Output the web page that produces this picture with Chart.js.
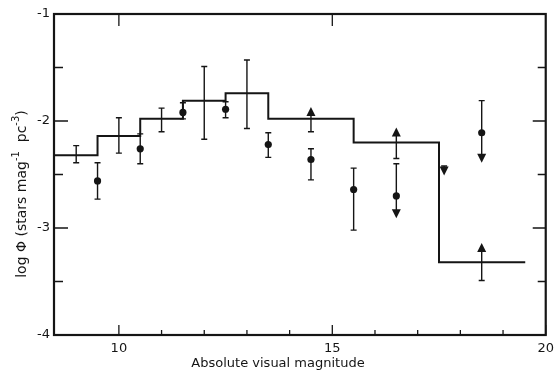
<!DOCTYPE html>
<html>
<head>
<meta charset="utf-8">
<script src="https://cdn.jsdelivr.net/npm/chart.js@4/dist/chart.umd.min.js"></script>
<style>
html,body{margin:0;padding:0;background:#fff;}
#wrap{width:560px;height:376px;}
</style>
</head>
<body>
<div id="wrap"><canvas id="c" width="560" height="376"></canvas></div>
<script>
// ---- data ----
const binEdges  = [8.48, 9.5, 10.5, 11.5, 12.5, 13.5, 15.5, 17.5, 19.52];
const binLevels = [-2.32, -2.14, -1.98, -1.81, -1.74, -1.98, -2.20, -3.32];

// error bars on the histogram (no marker)
const histErrX  = [9, 10, 11, 12, 13];
const histErrHi = [-2.23, -1.97, -1.88, -1.49, -1.43];
const histErrLo = [-2.39, -2.30, -2.10, -2.17, -2.07];

// arrows (limits) without marker: start value -> arrow tip value
const limX    = [14.5, 16.5, 18.5, 17.62];
const limFrom = [-2.10, -2.35, -3.49, -2.42];
const limTo   = [-1.87, -2.06, -3.14, -2.51];

// filled points with error bars
const ptX   = [9.5, 10.5, 11.5, 12.5, 13.5, 14.5, 15.5, 16.5, 18.5];
const ptY   = [-2.56, -2.26, -1.92, -1.89, -2.22, -2.36, -2.64, -2.70, -2.11];
const ptHi  = [-2.39, -2.12, -1.83, -1.82, -2.11, -2.26, -2.44, -2.40, -1.81];
const ptLo  = [-2.73, -2.40, -1.98, -1.97, -2.34, -2.55, -3.02, -2.91, -2.39];
const ptDownArrow = [false, false, false, false, false, false, false, true, true];

const xLabels = [10, 15, 20];
const yLabels = [-1, -2, -3, -4];
const xTitle = 'Absolute visual magnitude';
const yTitleParts = [['log Φ (stars mag', false], ['-1', true], ['  pc', false], ['-3', true], [')', false]];

const INK = '#151515';
const FONT = '"DejaVu Sans", sans-serif';

const stepData = binLevels.map((v, i) => ({x: binEdges[i], y: v}));
stepData.push({x: binEdges[binEdges.length - 1], y: binLevels[binLevels.length - 1]});

function arrowHead(ctx, x, yTip, dir) { // dir: -1 up, +1 down
  const h = 9, w = 4.5;
  ctx.beginPath();
  ctx.moveTo(x, yTip);
  ctx.lineTo(x - w, yTip - dir * h);
  ctx.lineTo(x + w, yTip - dir * h);
  ctx.closePath();
  ctx.fill();
}

const decor = {
  id: 'decor',
  afterDatasetsDraw(chart) {
    const {ctx, chartArea: a, scales: {x, y}} = chart;
    ctx.save();
    ctx.strokeStyle = INK; ctx.fillStyle = INK;
    ctx.lineCap = 'butt';
    // frame
    ctx.lineWidth = 2.2;
    ctx.strokeRect(a.left, a.top, a.right - a.left, a.bottom - a.top);
    // inward ticks
    ctx.lineWidth = 1.3;
    x.ticks.forEach(t => {
      const v = t.value;
      if (Math.abs(v - Math.round(v)) > 1e-6) return;
      const px = x.getPixelForValue(v);
      const major = v % 5 === 0;
      ctx.beginPath();
      ctx.moveTo(px, a.bottom); ctx.lineTo(px, a.bottom - (major ? 10 : 5));
      ctx.stroke();
      if (major && v < 20) {
        ctx.beginPath();
        ctx.moveTo(px, a.top); ctx.lineTo(px, a.top + 12);
        ctx.stroke();
      }
    });
    y.ticks.forEach(t => {
      const v = t.value;
      const py = y.getPixelForValue(v);
      if (v <= -3.99 || v >= -1.01) return;
      const major = Math.abs(v - Math.round(v)) < 1e-6;
      ctx.beginPath();
      ctx.moveTo(a.left, py); ctx.lineTo(a.left + (major ? 14 : 9), py);
      ctx.moveTo(a.right, py); ctx.lineTo(a.right - (major ? 13 : 8), py);
      ctx.stroke();
    });
    // histogram error bars
    ctx.lineWidth = 1.4;
    const cap = 3;
    histErrX.forEach((xv, i) => {
      const px = x.getPixelForValue(xv);
      const p1 = y.getPixelForValue(histErrHi[i]);
      const p2 = y.getPixelForValue(histErrLo[i]);
      ctx.beginPath();
      ctx.moveTo(px, p1); ctx.lineTo(px, p2);
      ctx.moveTo(px - cap, p1); ctx.lineTo(px + cap, p1);
      ctx.moveTo(px - cap, p2); ctx.lineTo(px + cap, p2);
      ctx.stroke();
    });
    // limit arrows
    limX.forEach((xv, i) => {
      const px = x.getPixelForValue(xv);
      const p1 = y.getPixelForValue(limFrom[i]);
      const p2 = y.getPixelForValue(limTo[i]);
      const dir = p2 < p1 ? -1 : 1;
      ctx.beginPath();
      ctx.moveTo(px, p1); ctx.lineTo(px, p2 - dir * 4);
      ctx.moveTo(px - cap, p1); ctx.lineTo(px + cap, p1);
      ctx.stroke();
      arrowHead(ctx, px, p2, dir);
    });
    // point error bars
    ptX.forEach((xv, i) => {
      const px = x.getPixelForValue(xv);
      const p1 = y.getPixelForValue(ptHi[i]);
      const p2 = y.getPixelForValue(ptLo[i]);
      ctx.beginPath();
      ctx.moveTo(px, p1); ctx.lineTo(px, ptDownArrow[i] ? p2 - 4 : p2);
      ctx.moveTo(px - cap, p1); ctx.lineTo(px + cap, p1);
      if (!ptDownArrow[i]) { ctx.moveTo(px - cap, p2); ctx.lineTo(px + cap, p2); }
      ctx.stroke();
      if (ptDownArrow[i]) arrowHead(ctx, px, p2, 1);
    });
    // axis titles
    ctx.font = '13px ' + FONT;
    ctx.textBaseline = 'middle';
    ctx.textAlign = 'center';
    ctx.fillText(xTitle, 278, 364);
    // y title with superscripts
    ctx.save();
    ctx.translate(22, 194);
    ctx.rotate(-Math.PI / 2);
    const big = '14px ' + FONT, small = '10px ' + FONT;
    let total = 0;
    yTitleParts.forEach(([s, sup]) => { ctx.font = sup ? small : big; total += ctx.measureText(s).width; });
    let cx = -total / 2;
    ctx.textAlign = 'left';
    yTitleParts.forEach(([s, sup]) => {
      ctx.font = sup ? small : big;
      ctx.fillText(s, cx, sup ? -6 : 0);
      cx += ctx.measureText(s).width;
    });
    ctx.restore();
    ctx.restore();
  }
};

new Chart(document.getElementById('c'), {
  type: 'scatter',
  data: {
    datasets: [
      {
        type: 'line',
        data: stepData,
        stepped: 'before',
        borderColor: INK,
        borderWidth: 2,
        pointRadius: 0,
        fill: false
      },
      {
        type: 'scatter',
        data: ptX.map((v, i) => ({x: v, y: ptY[i]})),
        pointRadius: 3.6,
        pointBackgroundColor: INK,
        pointBorderColor: INK,
        borderWidth: 0
      }
    ]
  },
  options: {
    responsive: false,
    animation: false,
    devicePixelRatio: 1,
    layout: {padding: {left: 0, top: 14, right: 11, bottom: 0}},
    plugins: {legend: {display: false}, tooltip: {enabled: false}},
    scales: {
      x: {
        type: 'linear', min: 8.48, max: 20,
        grid: {display: false, drawTicks: false},
        border: {display: false},
        afterFit(s) { s.height = 41; },
        ticks: {
          stepSize: 1, autoSkip: false, maxRotation: 0, padding: 6,
          color: INK, font: {family: FONT, size: 13},
          callback: v => xLabels.includes(v) ? String(v) : ''
        }
      },
      y: {
        type: 'linear', min: -4, max: -1,
        grid: {display: false, drawTicks: false},
        border: {display: false},
        afterFit(s) { s.width = 54; },
        ticks: {
          stepSize: 0.5, autoSkip: false, padding: 4,
          color: INK, font: {family: FONT, size: 13},
          callback: v => yLabels.includes(v) ? String(v) : ''
        }
      }
    }
  },
  plugins: [decor]
});
</script>
</body>
</html>
